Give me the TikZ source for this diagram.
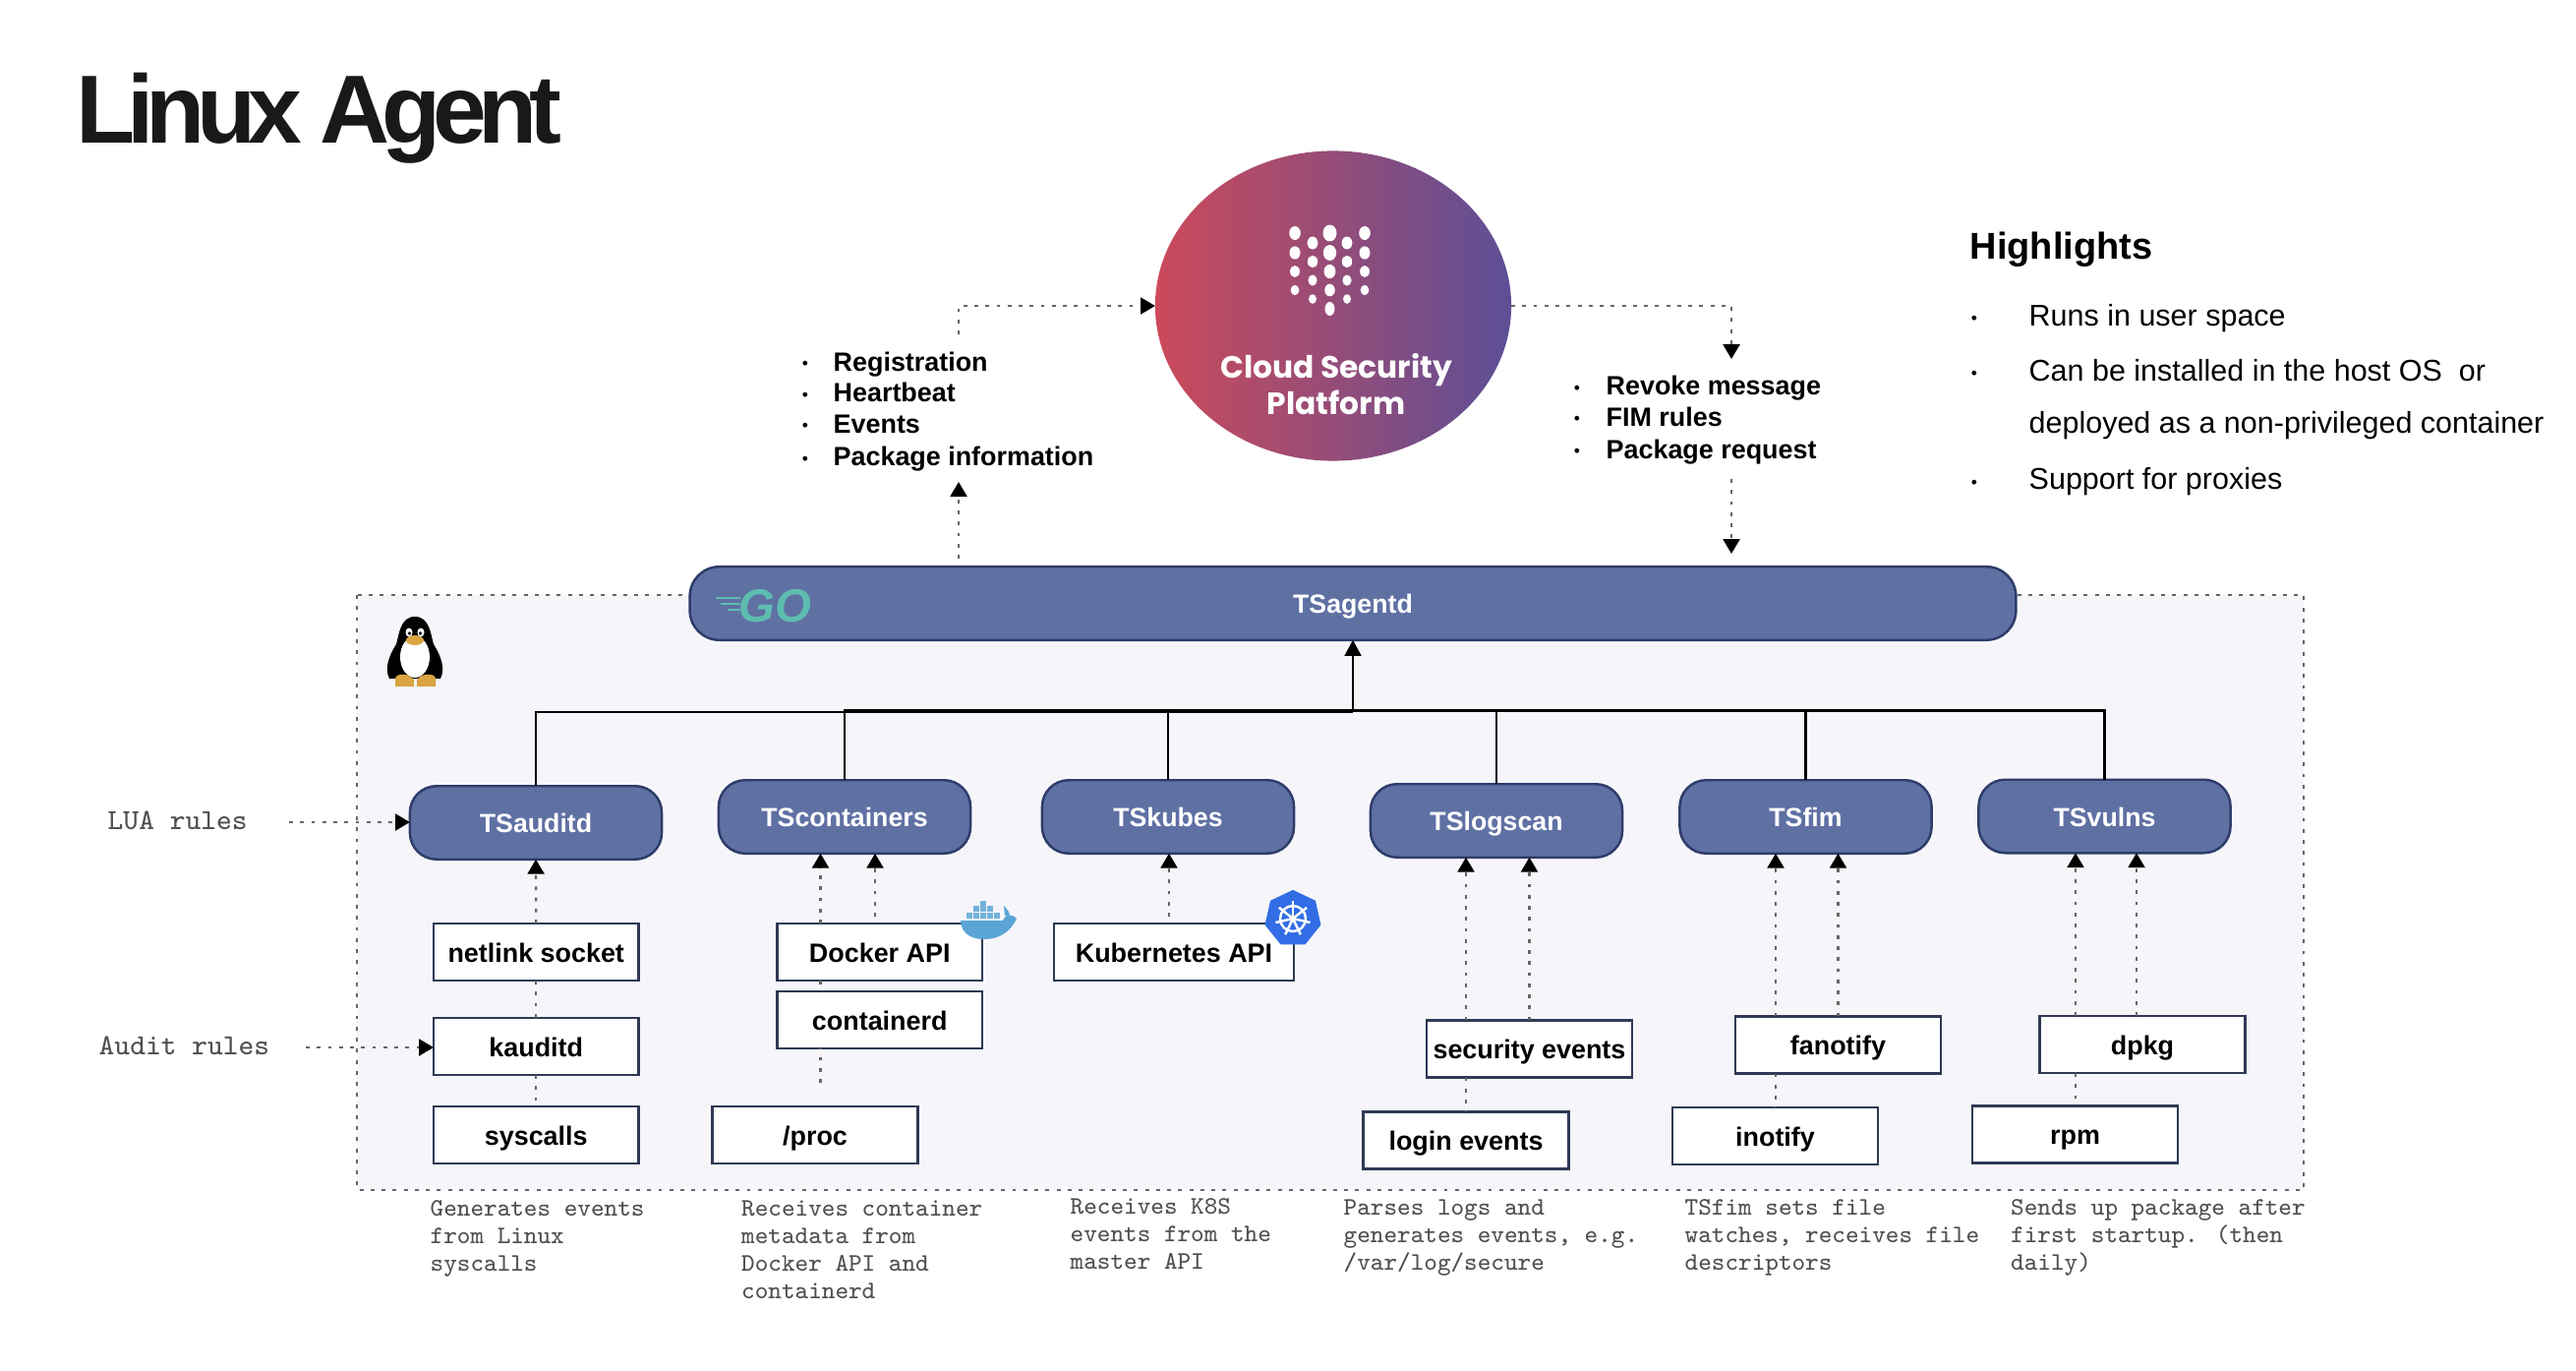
\documentclass[tikz,border=0pt]{standalone}
\usepackage{fontspec}
\setmainfont{Liberation Sans}
\newfontfamily\titlefont[LetterSpace=-8.5]{Liberation Sans}
\newfontfamily\cspfont{Poppins}
\usetikzlibrary{arrows.meta,shapes.geometric}
\definecolor{pillfill}{HTML}{5F70A3}
\definecolor{pillline}{HTML}{2E3C6B}
\definecolor{boxline}{HTML}{2F3A55}
\definecolor{panel}{HTML}{F6F6FA}
\definecolor{monoc}{HTML}{505050}
\definecolor{cspl}{HTML}{CC4A5A}
\definecolor{cspr}{HTML}{5D4F96}
\definecolor{goteal}{HTML}{5EBCB0}
\definecolor{whale}{HTML}{5AA5D6}
\definecolor{kblue}{HTML}{326DE6}
\definecolor{tux}{HTML}{D9A441}
\tikzset{
  pill/.style={draw=pillline,fill=pillfill,line width=0.7pt,rounded corners=0.27cm,
    minimum width=2.56cm,minimum height=0.745cm,inner sep=0pt,outer sep=0pt,text=white,
    font=\fontsize{7.6}{9}\selectfont\bfseries,text height=5.9pt,text depth=0.2pt},
  boxn/.style={draw=boxline,fill=white,line width=0.7pt,
    minimum width=2.085cm,minimum height=0.58cm,inner sep=0pt,outer sep=0pt,
    font=\fontsize{7.65}{9}\selectfont\bfseries,text height=6.6pt,text depth=0.8pt},
  dotl/.style={line width=0.65pt,draw=black!60,dash pattern=on 1.1pt off 2.1pt,-{Triangle[length=4.2pt,width=4.8pt,color=black]}},
  dotn/.style={line width=0.65pt,draw=black!60,dash pattern=on 1.1pt off 2.1pt},
  solidl/.style={line width=0.7pt,draw=black},
  listt/.style={anchor=base west,inner sep=0pt,font=\fontsize{7.65}{9}\selectfont\bfseries},
  bull/.style={anchor=base,inner sep=0pt,font=\fontsize{5}{6}\selectfont},
  hlt/.style={anchor=base west,inner sep=0pt,font=\fontsize{8.67}{11}\selectfont},
  monot/.style={anchor=base west,inner sep=0pt,align=left,text=monoc,
    font=\fontsize{7.29}{7.95}\selectfont\ttfamily},
  ruletext/.style={anchor=base west,inner sep=0pt,text=monoc,
    font=\fontsize{8.45}{9}\selectfont\ttfamily},
}
\begin{document}
\begin{tikzpicture}[x=0.01cm,y=-0.01cm]
\useasboundingbox (0,0) rectangle (2620,1394);
\fill[white] (0,0) rectangle (2620,1394);
% panel
\draw[fill=panel,draw=black!60,line width=0.75pt,dash pattern=on 1.1pt off 2.1pt] (363,605) rectangle (2343,1210);
% title
\node[anchor=base west,inner sep=0pt,text=black!90,font=\fontsize{28}{30}\selectfont\bfseries\titlefont] (title) at (77,146) {Linux Agent};
% platform
\node[ellipse,left color=cspl,right color=cspr,draw=none,minimum width=3.62cm,minimum height=3.15cm,inner sep=0pt,outer sep=0pt] (csp) at (1356,311) {};
\node[text=white,align=center,inner sep=0pt,font=\fontsize{8.9}{10.5}\selectfont\cspfont\bfseries] (csptext) at (1359,391) {Cloud Security\\Platform};
\foreach \x/\r in {1317/5.8,1388/5.8,1352.5/7}{
  \foreach \y/\k in {237/1,257/.95,276/.85,295/.75}{
    \fill[white] (\x,\y) ellipse [x radius=\r*\k,y radius=1.2*\r*\k];
  }
}
\fill[white] (1352.5,314) ellipse [x radius=5,y radius=7];
\foreach \x in {1335,1370}{
  \foreach \y/\k in {247/5.4,266/5.2,285/4.6,304/4}{
    \fill[white] (\x,\y) ellipse [x radius=\k,y radius=1.2*\k];
  }
}
% agent
\node[pill,rounded corners=0.3cm,minimum width=13.48cm,minimum height=0.745cm] (agent) at (1376,613.5) {TSagentd};
\node[inner sep=0pt,text=goteal,font=\fontsize{13.5}{16}\selectfont\bfseries\itshape] (golang) at (788,616) {GO};
\foreach \y/\a in {608/728,614/733,620/740}{\draw[goteal,line width=0.6pt] (\a,\y) -- (753,\y);}
% pills
\node[pill] (auditd) at (545,836.5) {TSauditd};
\node[pill] (cont) at (859,830.5) {TScontainers};
\node[pill] (kubes) at (1188,830.5) {TSkubes};
\node[pill] (logscan) at (1522,834.5) {TSlogscan};
\node[pill] (fim) at (1836.5,830.5) {TSfim};
\node[pill] (vulns) at (2140.5,830) {TSvulns};
% boxes
\node[boxn] (netlink) at (545.25,968) {netlink socket};
\node[boxn] (kauditd) at (545.25,1064) {kauditd};
\node[boxn] (syscalls) at (545.25,1154) {syscalls};
\node[boxn] (docker) at (894.75,968) {Docker API};
\node[boxn] (containerd) at (894.75,1037) {containerd};
\node[boxn] (proc) at (829,1154) {/proc};
\node[boxn,minimum width=2.44cm] (kubeapi) at (1194,968) {Kubernetes API};
\node[boxn] (security) at (1555.5,1066.5) {security events};
\node[boxn] (login) at (1491,1159.5) {login events};
\node[boxn] (fanotify) at (1869.5,1062.5) {fanotify};
\node[boxn] (inotify) at (1805.5,1155) {inotify};
\node[boxn] (dpkg) at (2179,1062) {dpkg};
\node[boxn] (rpm) at (2110.5,1153.5) {rpm};
% trunk
\coordinate (trunkA) at (1376,724);
\coordinate (trunkB) at (1376,722.5);
\draw[solidl] (auditd.north) |- (trunkA);
\foreach \n in {cont,kubes,logscan,fim,vulns}{\draw[solidl] (\n.north) |- (trunkB);}
\draw[solidl,-{Triangle[length=4.6pt,width=4.8pt]}] (trunkA) -- (agent.south);
% dotted, internal
\draw[dotl] (netlink.north) -- (auditd.south);
\draw[dotn] (netlink.south) -- (kauditd.north);
\draw[dotn] (kauditd.south) -- (syscalls.north);
\draw[dotl] (834.5,0 |- docker.north) -- (834.5,0 |- cont.south);
\coordinate (dk2) at (890,932);
\draw[dotl] (dk2) -- (dk2 |- cont.south);
\coordinate (pr2) at (834.5,1101);
\draw[dotn] (pr2) -- (pr2 |- containerd.south);
\draw[dotn] (pr2 |- docker.south) -- (pr2 |- containerd.north);
\coordinate (kb2) at (1189,932);
\draw[dotl] (kb2) -- (kb2 |- kubes.south);
\draw[dotl] (1491,0 |- security.north) -- (1491,0 |- logscan.south);
\draw[dotl] (security.north) -- (1555.5,0 |- logscan.south);
\draw[dotn] (1491,0 |- security.south) -- (login.north);
\draw[dotl] (1806,0 |- fanotify.north) -- (1806,0 |- fim.south);
\draw[dotl] (fanotify.north) -- (1869.5,0 |- fim.south);
\draw[dotn] (1806,0 |- fanotify.south) -- (1806,0 |- inotify.north);
\draw[dotl] (2111,0 |- dpkg.north) -- (2111,0 |- vulns.south);
\draw[dotl] (2173,0 |- dpkg.north) -- (2173,0 |- vulns.south);
\draw[dotn] (2111,0 |- dpkg.south) -- (2111,0 |- rpm.north);
% top connectors
\coordinate (la) at (975,568); \coordinate (lb) at (975,490); \coordinate (lc) at (975,340);
\coordinate (rb) at (1761,365); \coordinate (rc) at (1761,487); \coordinate (rd) at (1761,563);
\draw[dotl] (la) -- (lb);
\draw[dotl] (lc) |- (csp.west);
\draw[dotl] (csp.east) -| (rb);
\draw[dotl] (rc) -- (rd);
% rules
\node[ruletext] (lua) at (109,843) {LUA rules};
\node[ruletext] (aud) at (100,1072) {Audit rules};
\coordinate (luas) at (294,836); \coordinate (auds) at (311,1065);
\draw[dotl] (luas) -- (auditd.west |- luas);
\draw[dotl] (auds) -- (kauditd.west |- auds);
% lists
\foreach \y/\t/\n in {368/Registration/a,400/Heartbeat/b,431/Events/c,464/Package information/d}{
  \node[bull] at (819,\y+8) {•};
  \node[listt] (l\n) at (847,\y+9) {\t};
}
\foreach \y/\t/\n in {392/Revoke message/a,424/FIM rules/b,457/Package request/c}{
  \node[bull] at (1604,\y+8) {•};
  \node[listt] (r\n) at (1633,\y+9) {\t};
}
% highlights
\node[anchor=base west,inner sep=0pt,font=\fontsize{10.8}{13}\selectfont\bfseries] (high) at (2003,264) {Highlights};
\node[bull] at (2008,330) {•};
\node[hlt] (h1) at (2063,331) {Runs in user space};
\node[bull] at (2008,386) {•};
\node[hlt] (h2) at (2063,387) {Can be installed in the host OS\ \ or};
\node[hlt] (h3) at (2063,440) {deployed as a non-privileged container};
\node[bull] at (2008,496) {•};
\node[hlt] (h4) at (2063,497) {Support for proxies};
% descriptions
\node[monot,anchor=north west] (d1) at (437,1220) {Generates events\\from Linux\\syscalls};
\node[monot,anchor=north west] (d2) at (753.5,1220) {Receives container\\metadata from\\Docker API and\\containerd};
\node[monot,anchor=north west] (d3) at (1088,1218) {Receives K8S\\events from the\\master API};
\node[monot,anchor=north west] (d4) at (1366,1219) {Parses logs and\\generates events, e.g.\\/var/log/secure};
\node[monot,anchor=north west] (d5) at (1713,1219) {TSfim sets file\\watches, receives file\\descriptors};
\node[monot,anchor=north west] (d6) at (2044.5,1219) {Sends up package after\\first startup. (then\\daily)};
% penguin
\fill[black] (422,627) .. controls (437,627) and (438,645) .. (441,655) .. controls (449,668) and (453,680) .. (448,690) -- (396,690) .. controls (391,680) and (395,668) .. (403,655) .. controls (406,645) and (407,627) .. (422,627) -- cycle;
\fill[white] (422,668) ellipse [x radius=15,y radius=21];
\fill[tux] (402,690) .. controls (402,684) and (418,684) .. (421,692) -- (421,698) -- (402,698) -- cycle;
\fill[tux] (443,690) .. controls (443,684) and (427,684) .. (424,692) -- (424,698) -- (443,698) -- cycle;
\fill[tux] (422,651) ellipse [x radius=9,y radius=5];
\fill[white] (416,643) ellipse [x radius=3.5,y radius=4.5];
\fill[white] (428,643) ellipse [x radius=3.5,y radius=4.5];
\fill[black] (416.5,644) circle [radius=1.8];
\fill[black] (427.5,644) circle [radius=1.8];
% docker whale
\fill[whale] (977,936) -- (1020,936) .. controls (1022,930) and (1028,928) .. (1034,934) .. controls (1030,942) and (1022,955) .. (1000,955) .. controls (985,955) and (977,946) .. (977,936) -- cycle;
\fill[whale] (1022,931) -- (1021,921) .. controls (1025,925) and (1027,928) .. (1027,931) -- cycle;
\foreach \x/\y in {983/928,990/928,997/928,1004/928,1011/928,990/921,997/921,1004/921,997/916}{
  \fill[whale!85!white] (\x,\y) rectangle ++(6,6);
}
% kubernetes
\fill[kblue,draw=kblue,line width=0.6pt,line join=round] (1315,906) -- (1337,916.5) -- (1342.3,940.2) -- (1327,959.2) -- (1303,959.2) -- (1287.7,940.2) -- (1293,916.5) -- cycle;
\draw[white,line width=0.7pt] (1315,934) circle [radius=13];
\foreach \a in {-90,-38.6,12.9,64.3,115.7,167.1,218.6}{
  \draw[white,line width=0.7pt] (1315,934) -- ++(\a:18);
}
\fill[white] (1315,934) circle [radius=3];
\end{tikzpicture}
\end{document}
